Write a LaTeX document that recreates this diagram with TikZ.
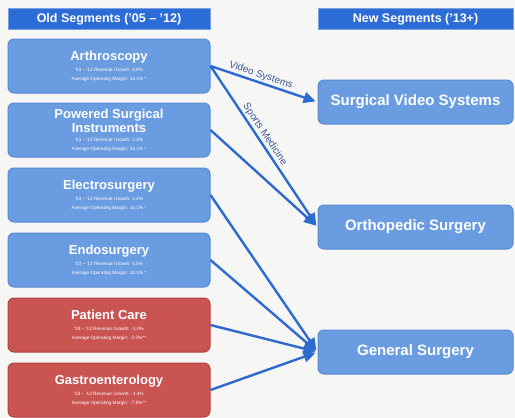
\documentclass[tikz,border=0pt]{standalone}
\usepackage{fontspec}
\setmainfont{Liberation Sans}
\usetikzlibrary{arrows.meta}
\definecolor{bgcol}{RGB}{246,246,244}
\definecolor{hdrblue}{RGB}{44,108,214}
\definecolor{hdrline}{RGB}{120,160,226}
\definecolor{segblue}{RGB}{106,156,225}
\definecolor{segline}{RGB}{88,138,212}
\definecolor{badred}{RGB}{201,84,82}
\definecolor{badline}{RGB}{178,66,66}
\definecolor{arrblue}{RGB}{46,106,208}
\definecolor{lblblue}{RGB}{58,88,150}
\newcommand{\subtxt}{\mdseries\fontsize{4.7}{9}\selectfont}

\begin{document}
\begin{tikzpicture}[x=1pt, y=-1pt,
  hdr/.style={draw=hdrline, fill=hdrblue, text=white, line width=1pt, inner sep=0pt,
    minimum width=202pt, minimum height=21pt, font=\bfseries\fontsize{12.5}{14}\selectfont},
  seg/.style={draw=segline, fill=segblue, text=white, rounded corners=6pt, align=center,
    line width=1pt, inner sep=2pt, minimum width=202pt, minimum height=54pt,
    font=\bfseries\fontsize{13}{15}\selectfont},
  bad/.style={seg, draw=badline, fill=badred},
  newseg/.style={seg, minimum width=195pt, minimum height=44pt,
    font=\bfseries\fontsize{15}{17}\selectfont},
  arr/.style={draw=arrblue, line width=2.4pt, -{Triangle[length=12pt,width=11pt]}, shorten >=2pt},
  lbl/.style={above, sloped, text=lblblue, font=\fontsize{10}{11}\selectfont, inner sep=1.5pt}]
\useasboundingbox[fill=bgcol] (0,0) rectangle (515,418);

% headers
\node[hdr] (oldhdr) at (109,19) {Old Segments ('05 -- '12)};
\node[hdr, minimum width=195pt] (newhdr) at (415.5,19) {New Segments ('13+)};

% old segments
\node[seg] (arthro) at (109,66) {Arthroscopy\\[-4pt]{\subtxt '03 -- '12 Revenue Growth: 8.9\%}\\[-6pt]{\subtxt Average Operating Margin: 14.1\% *}};
\node[seg] (powered) at (109,130) {Powered Surgical\\[-1pt]Instruments\\[-6pt]{\subtxt '03 -- '12 Revenue Growth: 2.3\%}\\[-6pt]{\subtxt Average Operating Margin: 14.1\% *}};
\node[seg] (electro) at (109,195) {Electrosurgery\\[-4pt]{\subtxt '03 -- '12 Revenue Growth: 2.4\%}\\[-6pt]{\subtxt Average Operating Margin: 14.1\% *}};
\node[seg] (endo) at (109,260) {Endosurgery\\[-4pt]{\subtxt '03 -- '12 Revenue Growth: 5.5\%}\\[-6pt]{\subtxt Average Operating Margin: 14.1\% *}};
\node[bad] (patient) at (109,325) {Patient Care\\[-4pt]{\subtxt '03 -- '12 Revenue Growth: -1.0\%}\\[-6pt]{\subtxt Average Operating Margin: -2.0\%**}};
\node[bad] (gastro) at (109,390) {Gastroenterology\\[-4pt]{\subtxt '03 -- '12 Revenue Growth: -1.4\%}\\[-6pt]{\subtxt Average Operating Margin: -7.8\%**}};

% new segments
\node[newseg] (svs) at (415.5,102) {Surgical Video Systems};
\node[newseg] (ortho) at (415.5,227) {Orthopedic Surgery};
\node[newseg] (gen) at (415.5,352) {General Surgery};

\draw[arr] (arthro.east) -- node[lbl, pos=0.45] {Video Systems} (svs.west);
\draw[arr] (arthro.east) -- node[lbl, pos=0.45] {Sports Medicine} (ortho.west);
\draw[arr] (powered.east) -- (ortho.west);
\foreach \s in {electro,endo,patient,gastro}
  \draw[arr] (\s.east) -- (gen.west);
\end{tikzpicture}
\end{document}
